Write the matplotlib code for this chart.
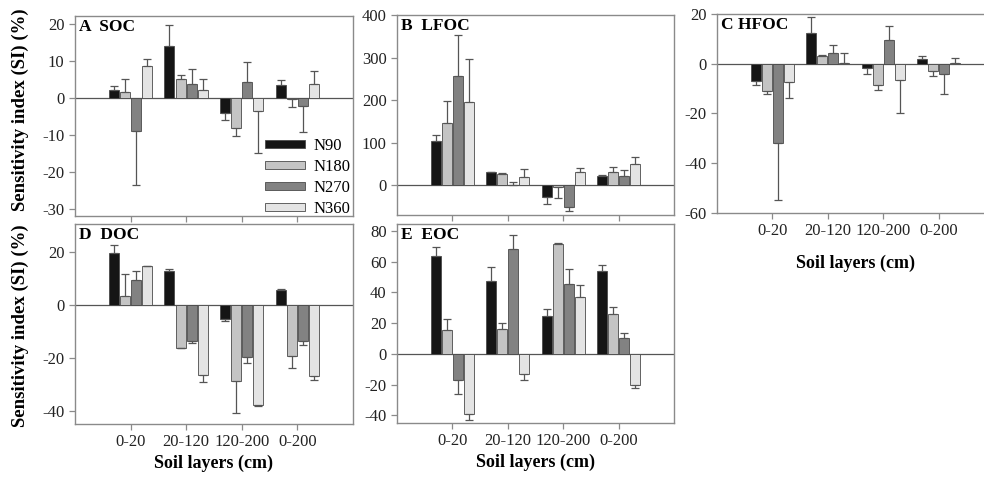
import numpy as np
import matplotlib
matplotlib.use("Agg")
import matplotlib.pyplot as plt

plt.rcParams['font.family'] = ['Liberation Serif', 'DejaVu Serif']
plt.rcParams['axes.unicode_minus'] = False

layers = ["0-20", "20-120", "120-200", "0-200"]
treatments = ["N90", "N180", "N270", "N360"]
colors = ["#151515", "#c4c4c4", "#828282", "#e4e4e4"]

# values per treatment (rows) and soil layer (columns), with error bars
soc = [[2.2, 14.1, -4.1, 3.4],
       [1.5, 5.2, -8.1, -0.3],
       [-9.0, 3.8, 4.4, -2.1],
       [8.7, 2.1, -3.6, 3.8]]
soc_err = [[1.1, 5.6, 1.9, 1.4],
           [3.6, 1.1, 2.1, 2.2],
           [14.6, 3.9, 5.3, 7.2],
           [1.8, 2.9, 11.3, 3.4]]

lfoc = [[105, 30, -28, 22],
        [146, 27, -5, 32],
        [256, 1, -52, 21],
        [195, 20, 31, 50]]
lfoc_err = [[14, 2, 15, 3],
            [51, 2, 25, 12],
            [98, 6, 9, 16],
            [102, 18, 10, 16]]

hfoc = [[-6.8, 12.2, -1.9, 2.0],
        [-10.8, 3.2, -8.6, -2.9],
        [-31.9, 4.3, 9.4, -4.0],
        [-7.4, 0.2, -6.6, 0.1]]
hfoc_err = [[1.9, 6.5, 2.1, 1.3],
            [1.4, 0.5, 2.1, 1.9],
            [23.0, 3.3, 5.6, 8.2],
            [6.5, 4.0, 13.2, 2.2]]

doc = [[19.7, 12.6, -5.5, 5.4],
       [3.4, -16.2, -28.7, -19.3],
       [9.4, -13.7, -19.9, -13.7],
       [14.5, -26.5, -38.0, -26.8]]
doc_err = [[2.7, 1.0, 0.6, 0.5],
           [8.2, 0.3, 12.0, 4.7],
           [3.5, 0.7, 2.2, 1.5],
           [0.3, 2.6, 0.4, 1.6]]

eoc = [[63.8, 47.4, 24.6, 53.6],
       [15.8, 16.4, 71.6, 25.9],
       [-17.1, 68.5, 45.4, 10.4],
       [-38.9, -13.0, 37.0, -20.3]]
eoc_err = [[5.6, 9.0, 4.6, 4.3],
           [6.7, 3.5, 0.4, 4.6],
           [9.3, 8.5, 9.7, 3.4],
           [4.3, 3.9, 8.0, 2.2]]

fig = plt.figure(figsize=(9.84, 4.8), dpi=100)
axA = fig.add_axes([0.0762, 0.550, 0.2825, 0.4167])
axB = fig.add_axes([0.4035, 0.552, 0.2815, 0.4167])
axC = fig.add_axes([0.7287, 0.5563, 0.2815, 0.4146])
axD = fig.add_axes([0.0762, 0.1167, 0.2825, 0.4167])
axE = fig.add_axes([0.4035, 0.1188, 0.2815, 0.4146])

x = np.arange(1, 5)
offsets = [-0.3, -0.1, 0.1, 0.3]
frame = "#8a8a8a"


def draw(ax, vals, errs, title, ylim, yticks, show_x):
    for i in range(4):
        v = np.array(vals[i], dtype=float)
        e = np.array(errs[i], dtype=float)
        pos = x + offsets[i]
        ax.bar(pos, v, width=0.18, color=colors[i], edgecolor="#4a4a4a",
               linewidth=0.6, label=treatments[i], zorder=2)
        lo = np.where(v < 0, e, 0)
        hi = np.where(v >= 0, e, 0)
        ax.errorbar(pos, v, yerr=[lo, hi], fmt="none", ecolor="#555555",
                    elinewidth=0.9, capsize=3, capthick=0.9, zorder=3)
    ax.axhline(0, color="#555555", lw=0.9, zorder=1)
    ax.set_xlim(0, 5)
    ax.set_ylim(*ylim)
    ax.set_yticks(yticks)
    ax.set_xticks(x)
    if show_x:
        ax.set_xticklabels(layers)
        ax.set_xlabel("Soil layers (cm)", fontsize=13, fontweight="bold")
    else:
        ax.set_xticklabels([])
    for s in ax.spines.values():
        s.set_color(frame)
        s.set_linewidth(1.0)
    ax.tick_params(direction="out", length=4, width=0.9, color=frame,
                   labelsize=12, labelcolor="#222222")
    ax.text(0.015, 0.985, title, transform=ax.transAxes, ha="left", va="top",
            fontsize=12.5, fontweight="bold")


draw(axA, soc, soc_err, "A  SOC", (-32, 22.2), [-30, -20, -10, 0, 10, 20], False)
draw(axB, lfoc, lfoc_err, "B  LFOC", (-70, 400), [0, 100, 200, 300, 400], False)
draw(axC, hfoc, hfoc_err, "C HFOC", (-60, 20), [-60, -40, -20, 0, 20], True)
draw(axD, doc, doc_err, "D  DOC", (-45, 30.5), [-40, -20, 0, 20], True)
draw(axE, eoc, eoc_err, "E  EOC", (-45, 84.5), [-40, -20, 0, 20, 40, 60, 80], True)

axA.set_ylabel("Sensitivity index (SI) (%)", fontsize=13.5, fontweight="bold")
axA.yaxis.set_label_coords(-0.165, 0.53)
axD.set_ylabel("Sensitivity index (SI) (%)", fontsize=13.5, fontweight="bold")
axD.yaxis.set_label_coords(-0.165, 0.49)

axD.xaxis.set_label_coords(0.5, -0.155)
axE.xaxis.set_label_coords(0.5, -0.155)
axC.xaxis.set_label_coords(0.5, -0.21)

axA.legend(loc="upper left", bbox_to_anchor=(0.683, 0.39), frameon=False,
           fontsize=12, handlelength=2.4, handleheight=0.4, labelspacing=0.3,
           handletextpad=0.5, borderaxespad=0, borderpad=0)

fig.savefig("out.png", dpi=100)
